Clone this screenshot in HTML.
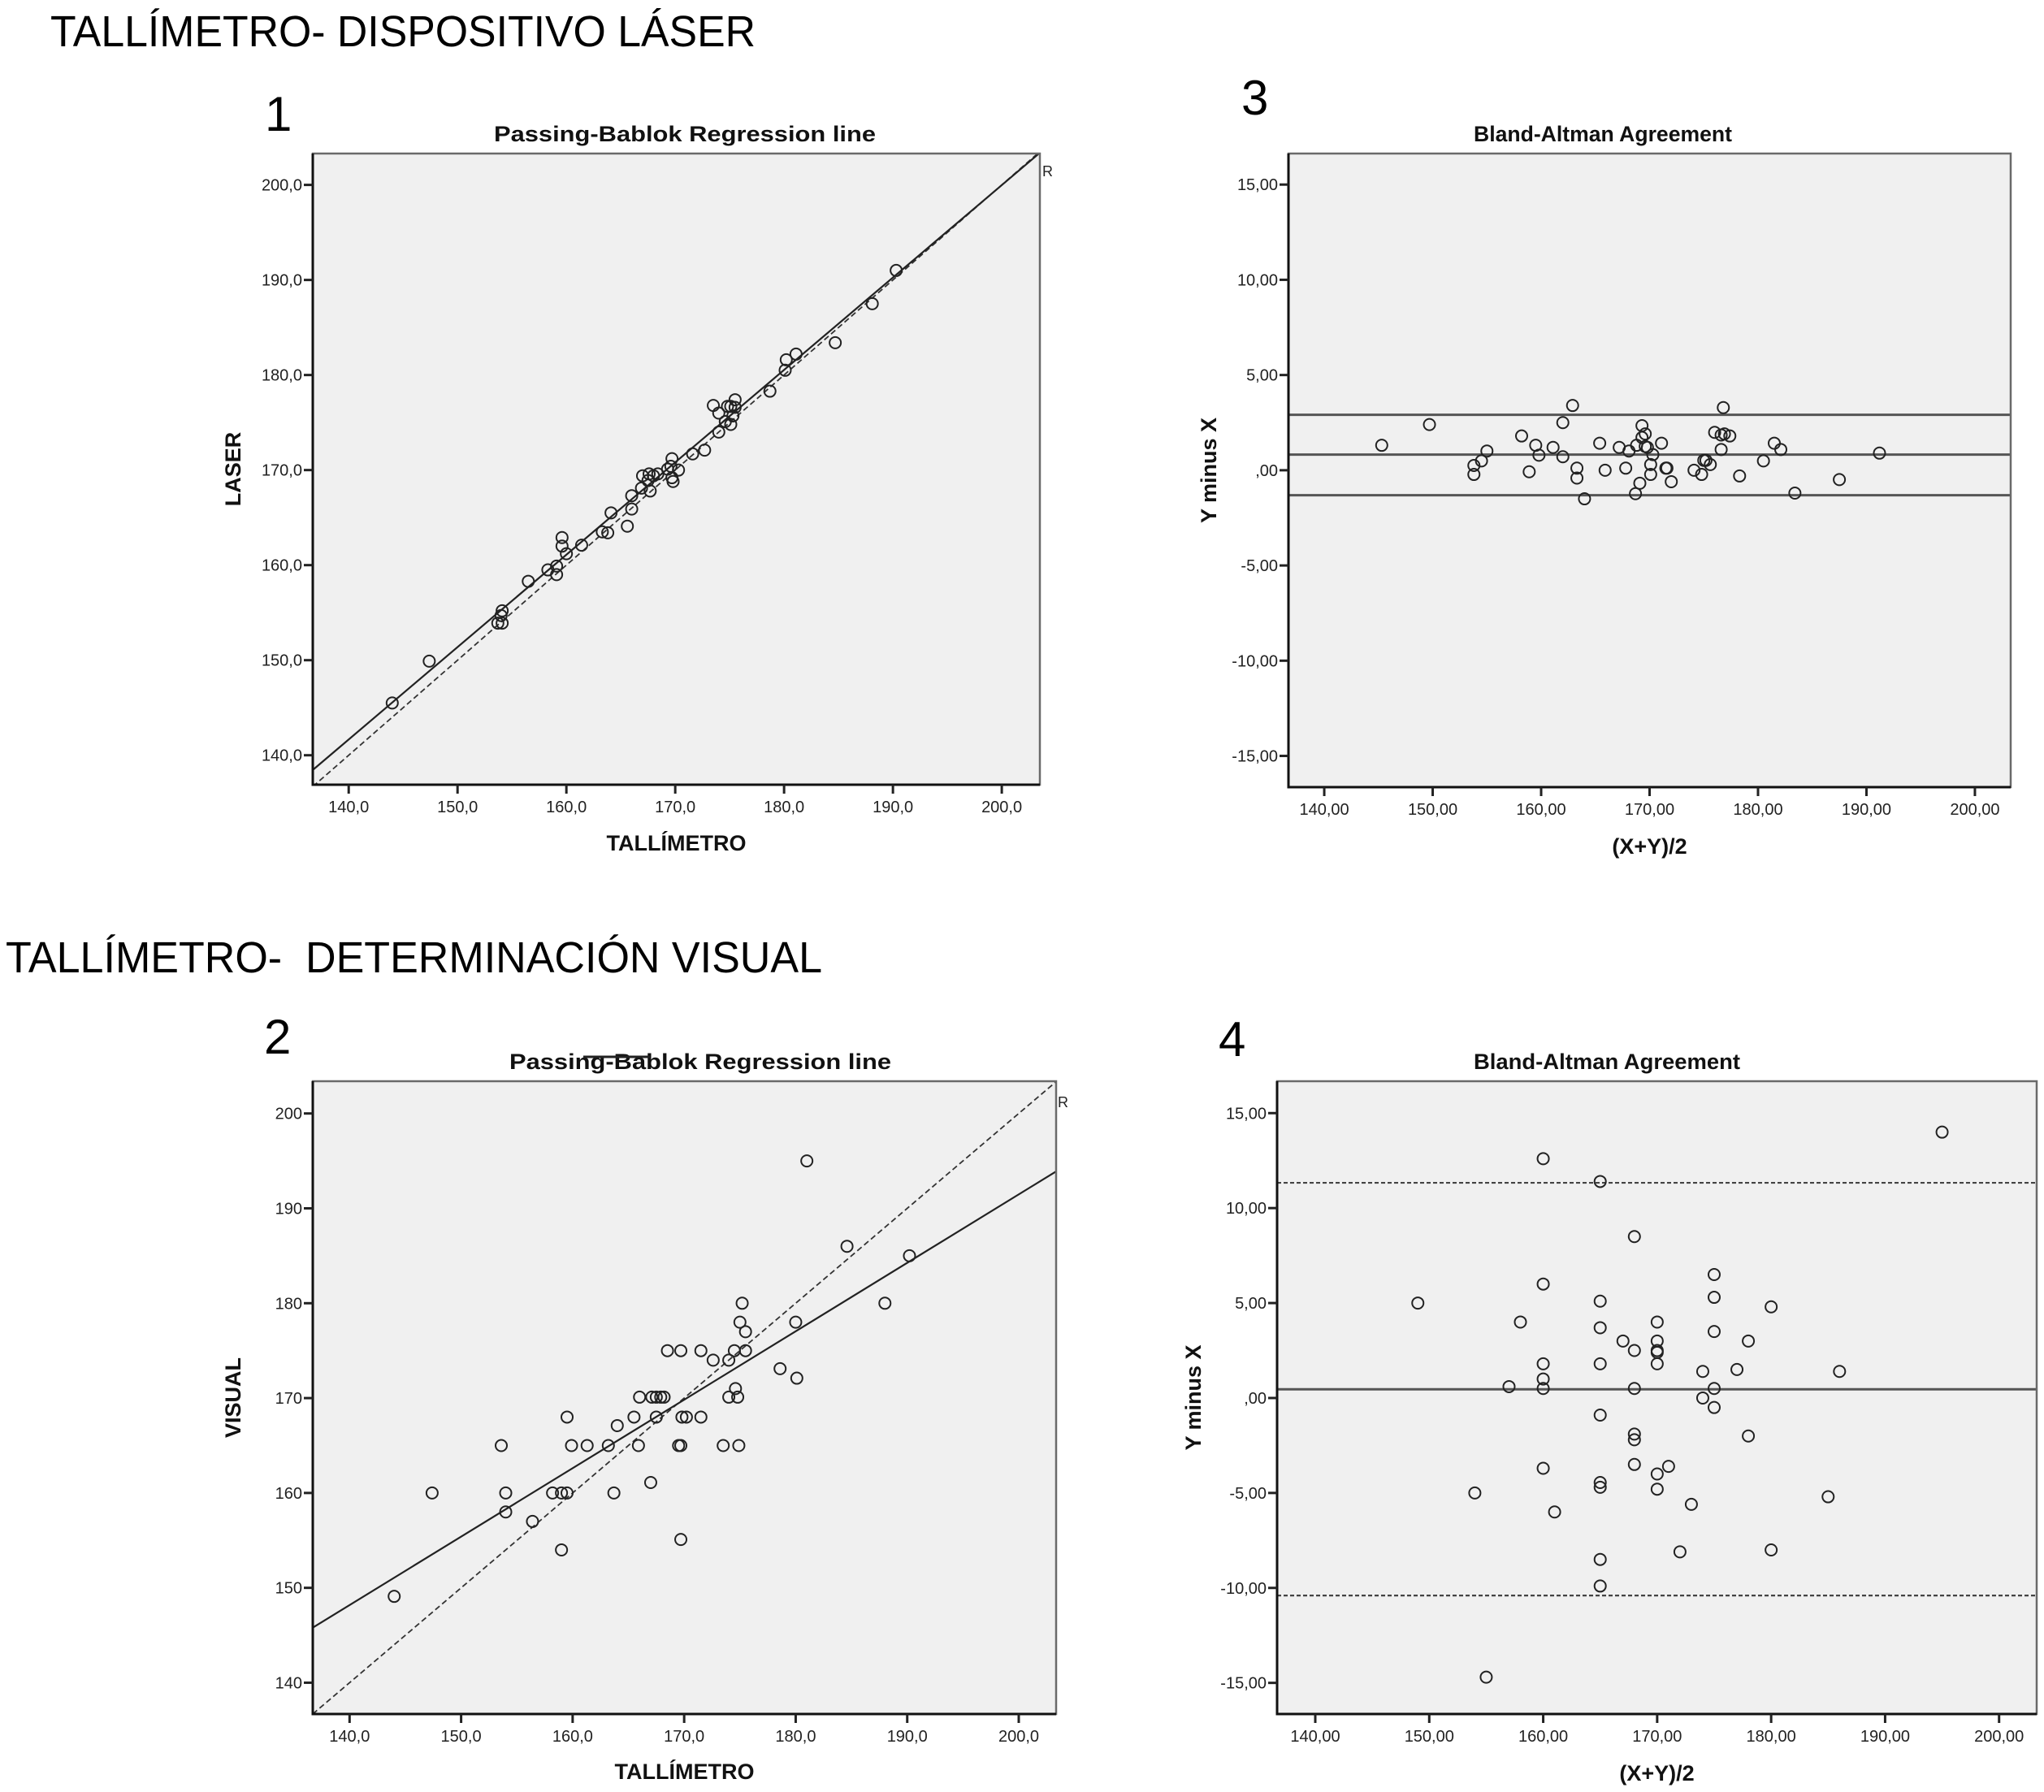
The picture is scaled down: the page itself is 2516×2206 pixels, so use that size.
<!DOCTYPE html>
<html><head><meta charset="utf-8">
<style>
html,body{margin:0;padding:0;background:#fff;}
svg{display:block;}
text{font-family:"Liberation Sans",Arial,sans-serif;}
</style></head>
<body>
<svg id="fig" width="2516" height="2206" viewBox="0 0 2516 2206" xmlns="http://www.w3.org/2000/svg">
<text x="62" y="57" font-size="54" textLength="868" lengthAdjust="spacingAndGlyphs">TALLÍMETRO- DISPOSITIVO LÁSER</text>
<text x="7" y="1197" font-size="54" textLength="1005" lengthAdjust="spacingAndGlyphs" xml:space="preserve">TALLÍMETRO-  DETERMINACIÓN VISUAL</text>
<text x="326" y="161" font-size="60">1</text>
<text x="1528" y="141" font-size="60">3</text>
<text x="325" y="1297" font-size="60">2</text>
<text x="1500" y="1300" font-size="60">4</text>
</svg>
<script>
// Panel 1: Passing-Bablok, TALLIMETRO vs LASER
const p1X = [144.0,147.4,154.1,153.7,154.1,154.0,156.5,158.3,159.1,159.1,159.6,159.6,160.0,161.4,163.3,163.8,164.1,165.6,166.0,166.0,166.9,167.0,167.5,167.6,167.7,168.0,168.4,169.3,169.7,169.6,169.8,169.7,170.3,171.6,172.7,173.5,174.0,174.0,174.6,174.8,175.1,175.1,175.3,175.5,175.5,178.7,180.1,180.2,181.1,184.7,188.1,190.3];
const p1Y = [145.5,149.9,155.2,153.9,153.9,154.7,158.3,159.5,159.9,159.0,162.9,162.0,161.2,162.1,163.5,163.4,165.5,164.1,165.9,167.3,168.1,169.4,168.9,169.6,167.8,169.4,169.6,170.1,171.2,170.4,168.8,169.2,170.0,171.7,172.1,176.8,176.0,174.0,175.1,176.7,176.7,174.8,175.7,177.4,176.6,178.3,180.5,181.6,182.2,183.4,187.5,191.0];
const p1Fit = [138.45, 0.972]; // value at x=136.7, slope
// Panel 2: Passing-Bablok, TALLIMETRO vs VISUAL
const p2X = [144.0,147.4,153.6,154.0,154.0,156.4,158.2,159.0,159.0,159.5,159.5,159.9,161.3,163.2,163.7,164.0,165.5,165.9,166.0,167.0,167.1,167.5,167.5,167.9,168.2,168.5,169.5,169.7,169.7,169.7,169.8,170.2,171.5,171.5,172.6,173.5,174.0,174.0,174.5,174.6,174.8,174.9,175.0,175.2,175.5,175.5,178.6,180.0,180.1,181.0,184.6,188.0,190.2];
const p2Y = [149.1,160.0,165.0,160.0,158.0,157.0,160.0,160.0,154.0,168.0,160.0,165.0,165.0,165.0,160.0,167.1,168.0,165.0,170.1,161.1,170.1,168.0,170.1,170.1,170.1,175.0,165.0,165.0,175.0,155.1,168.0,168.0,175.0,168.0,174.0,165.0,174.0,170.1,175.0,171.0,170.1,165.0,178.0,180.0,177.0,175.0,173.1,178.0,172.1,195.0,186.0,180.0,185.0];
const p2Fit = [145.8, 0.7215];
// Panel 3: Bland-Altman laser
const p3Mean = [145.3,149.7,153.8,153.8,154.5,155.0,158.2,158.9,159.5,159.8,161.1,162.0,162.0,162.9,163.3,163.3,164.0,165.4,165.9,167.2,167.8,168.1,168.7,168.8,169.1,169.3,169.3,169.6,169.6,169.8,170.1,170.1,170.3,171.1,171.5,171.6,172.0,174.1,174.8,175.0,175.2,175.6,176.0,176.6,176.6,176.8,176.9,177.4,178.3,180.5,181.5,182.1,183.4,187.5,191.2];
const p3Diff = [1.31,2.40,0.25,-0.22,0.49,1.01,1.80,-0.08,1.31,0.79,1.20,2.50,0.71,3.40,0.11,-0.41,-1.50,1.42,0.0,1.20,0.11,1.01,-1.23,1.31,-0.68,2.34,1.72,1.91,1.25,1.20,0.30,-0.22,0.82,1.42,0.11,0.11,-0.60,0.0,-0.22,0.52,0.52,0.30,1.99,1.09,1.85,3.29,1.91,1.80,-0.30,0.49,1.42,1.09,-1.20,-0.49,0.90];
const p3Lines = [2.91, 0.82, -1.31];
// Panel 4: Bland-Altman visual
const p4Mean = [149,154,155,157,158,160,160,160,160,160,160,161,165,165,165,165,165,165,165,165,165,167,168,168,168,168,168,168,170,170,170,170,170,170,170,171,172,173,174,174,175,175,175,175,175,177,178,178,180,180,185,186,195];
const p4Diff = [5.0,-5.0,-14.7,0.6,4.0,12.6,6.0,1.8,1.0,0.5,-3.7,-6.0,11.4,5.1,3.7,1.8,-0.9,-4.45,-4.7,-8.5,-9.9,3.0,8.5,2.5,0.5,-1.9,-2.2,-3.5,4.0,3.0,2.5,2.4,1.8,-4.0,-4.8,-3.6,-8.1,-5.6,1.4,0.0,6.5,5.3,3.5,0.5,-0.5,1.5,3.0,-2.0,4.8,-8.0,-5.2,1.4,14.0];
const p4Mid = [0.46];
const p4Limits = [11.33, -10.4];
const pbTicks = [140,150,160,170,180,190,200];
const pbTickLabels1 = ["140,0","150,0","160,0","170,0","180,0","190,0","200,0"];
const pbTickLabels2y = ["140","150","160","170","180","190","200"];
const baXTicks = [140,150,160,170,180,190,200];
const baXTickLabels = ["140,00","150,00","160,00","170,00","180,00","190,00","200,00"];
const baYTicks = [-15,-10,-5,0,5,10,15];
const baYTickLabels = ["-15,00","-10,00","-5,00",",00","5,00","10,00","15,00"];

const NS = "http://www.w3.org/2000/svg";
const svg = document.getElementById('fig');
function mk(tag, attrs, parent){
  const e = document.createElementNS(NS, tag);
  for (const k in attrs) e.setAttribute(k, attrs[k]);
  (parent||svg).appendChild(e);
  return e;
}
function scale(d0,d1,r0,r1){ return v => r0 + (v-d0)/(d1-d0)*(r1-r0); }

function panel(o){
  const g = mk('g', {});
  
  
  const sx = scale(o.xd[0], o.xd[1], o.L, o.R);
  const sy = scale(o.yd[0], o.yd[1], o.B, o.T);
  const bg = mk('rect', {x:o.L, y:o.T, width:o.R-o.L, height:o.B-o.T, fill:'#f0f0f0', stroke:'none'}, g);
  
  
  const cp = 'clip-' + o.name;
  const c = mk('clipPath', {id:cp}, g);
  mk('rect', {x:o.L, y:o.T, width:o.R-o.L, height:o.B-o.T}, c);
  const inner = mk('g', {'clip-path':'url(#'+cp+')'}, g);
  o.draw(inner, sx, sy);
  o.points[0].forEach((xv,i) => {
    const ci = mk('circle', {cx:sx(xv), cy:sy(o.points[1][i]), r:7, fill:'none', stroke:'#222', 'stroke-width':2}, g);
    
    
  });
  const fr = mk('rect', {x:o.L, y:o.T, width:o.R-o.L, height:o.B-o.T, fill:'none', stroke:'#6a6a6a', 'stroke-width':2.5}, g);
  
  
  const ax = mk('polyline', {points:o.L+','+o.T+' '+o.L+','+o.B+' '+o.R+','+o.B, fill:'none', stroke:'#111', 'stroke-width':3}, g);
  
  
  o.xt.forEach((v,i) => {
    const x = sx(v);
    mk('line', {x1:x, y1:o.B, x2:x, y2:o.B+11, stroke:'#222', 'stroke-width':3}, g);
    const t = mk('text', {x:x, y:o.B+34, 'font-size':20, 'text-anchor':'middle', fill:'#222'}, g);
    t.textContent = o.xl[i];
    
    
  });
  o.yt.forEach((v,i) => {
    const y = sy(v);
    mk('line', {x1:o.L-11, y1:y, x2:o.L, y2:y, stroke:'#222', 'stroke-width':3}, g);
    const t = mk('text', {x:o.L-13, y:y+7, 'font-size':20, 'text-anchor':'end', fill:'#222'}, g);
    t.textContent = o.yl[i];
    
    
  });
  const tt = mk('text', {x:o.tx, y:o.T-15, 'font-size':27, 'font-weight':'bold', 'text-anchor':'middle', fill:'#111', textLength:o.tw, lengthAdjust:'spacingAndGlyphs'}, g);
  tt.textContent = o.title;
  
  
  const xl = mk('text', {x:(o.L+o.R)/2, y:o.xly, 'font-size':27, 'font-weight':'bold', 'text-anchor':'middle', fill:'#111'}, g);
  xl.textContent = o.xlabel;
  
  
  const yc = (o.T+o.B)/2;
  const yl = mk('text', {x:o.ylx, y:yc, 'font-size':27, 'font-weight':'bold', 'text-anchor':'middle', fill:'#111', transform:'rotate(-90 '+o.ylx+' '+yc+')'}, g);
  yl.textContent = o.ylabel;
  
  
  return {g, sx, sy};
}

function pbDraw(fit){
  return (inner, sx, sy) => {
    const x0 = 136.7, x1 = 204;
    const d = mk('line', {x1:sx(x0), y1:sy(x0), x2:sx(x1), y2:sy(x1), stroke:'#333', 'stroke-width':1.8, 'stroke-dasharray':'7 4'}, inner);
    
    
    const s = mk('line', {x1:sx(x0), y1:sy(fit[0]), x2:sx(x1), y2:sy(fit[0]+fit[1]*(x1-x0)), stroke:'#222', 'stroke-width':2.2}, inner);
    
    
  };
}

panel({name:'panel-1-laser-regression', L:385, R:1280, T:189, B:966, xd:[136.7,203.5], yd:[136.9,203.3],
  points:[p1X,p1Y], xt:pbTicks, xl:pbTickLabels1, yt:pbTicks, yl:pbTickLabels1,
  title:'Passing-Bablok Regression line', tx:843, tw:470, xlabel:'TALLÍMETRO', xly:1047, ylabel:'LASER', ylx:296,
  draw:pbDraw(p1Fit)});
panel({name:'panel-2-visual-regression', L:385, R:1300, T:1331, B:2110, xd:[136.7,203.35], yd:[136.7,203.4],
  points:[p2X,p2Y], xt:pbTicks, xl:pbTickLabels1, yt:pbTicks, yl:pbTickLabels2y,
  title:'Passing-Bablok Regression line', tx:862, tw:470, xlabel:'TALLÍMETRO', xly:2190, ylabel:'VISUAL', ylx:296,
  draw:pbDraw(p2Fit)});
const strike = mk('line', {x1:718, y1:1301, x2:800, y2:1301, stroke:'#222', 'stroke-width':3});


[[1283,217],[1302,1363]].forEach(p => {
  const r = mk('text', {x:p[0], y:p[1], 'font-size':18, fill:'#222'});
  r.textContent = 'R';
  
  
});

panel({name:'panel-3-laser-bland-altman', L:1586, R:2475, T:189, B:969, xd:[136.7,203.3], yd:[-16.64,16.63],
  points:[p3Mean,p3Diff], xt:baXTicks, xl:baXTickLabels, yt:baYTicks, yl:baYTickLabels,
  title:'Bland-Altman Agreement', tx:1973, tw:318, xlabel:'(X+Y)/2', xly:1051, ylabel:'Y minus X', ylx:1497,
  draw:(inner, sx, sy) => {
    p3Lines.forEach(v => {
      const l = mk('line', {x1:1586, y1:sy(v), x2:2475, y2:sy(v), stroke:'#555', 'stroke-width':3}, inner);
      
      
    });
  }});
panel({name:'panel-4-visual-bland-altman', L:1572, R:2507, T:1331, B:2110, xd:[136.65,203.3], yd:[-16.64,16.68],
  points:[p4Mean,p4Diff], xt:baXTicks, xl:baXTickLabels, yt:baYTicks, yl:baYTickLabels,
  title:'Bland-Altman Agreement', tx:1978, tw:328, xlabel:'(X+Y)/2', xly:2192, ylabel:'Y minus X', ylx:1478,
  draw:(inner, sx, sy) => {
    p4Mid.forEach(v => {
      const l = mk('line', {x1:1572, y1:sy(v), x2:2507, y2:sy(v), stroke:'#555', 'stroke-width':3}, inner);
      
      
    });
    p4Limits.forEach(v => {
      const l = mk('line', {x1:1572, y1:sy(v), x2:2507, y2:sy(v), stroke:'#444', 'stroke-width':2.2, 'stroke-dasharray':'5 3'}, inner);
      
      
    });
  }});
</script>
</body></html>
